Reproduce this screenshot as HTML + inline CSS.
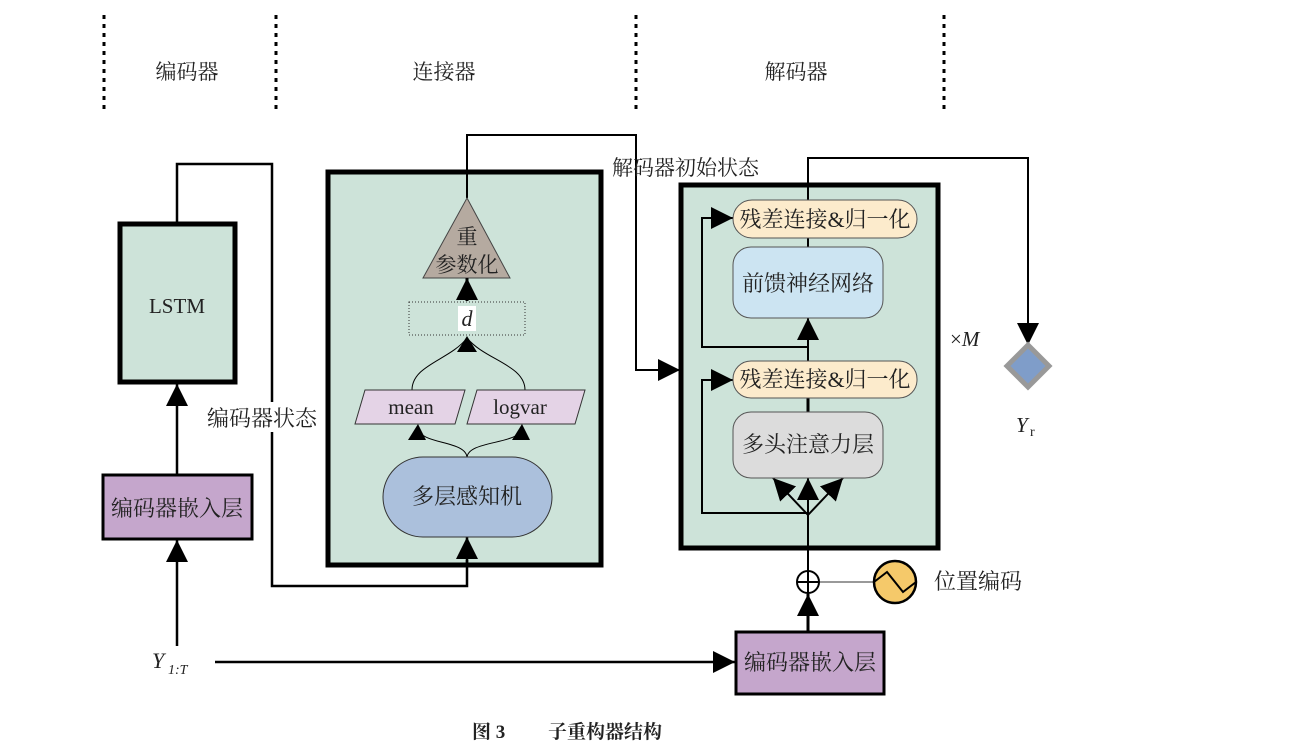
<!DOCTYPE html>
<html><head><meta charset="utf-8"><style>
body{margin:0;background:#fff}
svg text{font-family:"Liberation Serif","Noto Serif CJK SC",serif;fill:#222}
.cj{font-family:"Liberation Serif","Noto Serif CJK SC",serif}
</style></head><body>
<svg width="1290" height="746" viewBox="0 0 1290 746" xmlns="http://www.w3.org/2000/svg">
<defs>
<marker id="b" viewBox="0 0 10 10" refX="10" refY="5" markerWidth="22" markerHeight="22" markerUnits="userSpaceOnUse" orient="auto"><path d="M0,0L10,5L0,10z" fill="#000"/></marker></defs>
<g stroke="#000" stroke-width="3" stroke-dasharray="4,5">
<line x1="104" y1="15" x2="104" y2="112"/><line x1="276" y1="15" x2="276" y2="112"/><line x1="636" y1="15" x2="636" y2="112"/><line x1="944" y1="15" x2="944" y2="112"/></g>
<g font-size="21" class="cj" text-anchor="middle"><text x="187" y="79">编码器</text><text x="444" y="79">连接器</text><text x="796" y="79">解码器</text></g>
<!-- encoder -->
<rect x="120" y="224" width="115" height="158" fill="#cde3d9" stroke="#000" stroke-width="5"/>
<text x="177" y="313" font-size="21" text-anchor="middle">LSTM</text>
<rect x="103" y="475" width="149" height="64" fill="#c5a6cc" stroke="#000" stroke-width="3"/>
<text x="177" y="516" font-size="22" class="cj" text-anchor="middle">编码器嵌入层</text>
<rect x="328" y="172" width="273" height="393" fill="#cde3d9" stroke="#000" stroke-width="5"/>
<g fill="none" stroke="#000" stroke-width="2.5">
<path d="M177 222V164H272V402"/><path d="M272 432V586H467V560" />
<line x1="177" y1="474" x2="177" y2="384" marker-end="url(#b)"/>
<line x1="177" y1="646" x2="177" y2="540" marker-end="url(#b)"/>
<line x1="215" y1="662" x2="735" y2="662" marker-end="url(#b)"/>
<line x1="467" y1="567" x2="467" y2="537" marker-end="url(#b)"/>
</g>
<text x="262" y="426" font-size="22" class="cj" text-anchor="middle">编码器状态</text>
<text x="152" y="668" font-size="22" font-style="italic">Y</text><text x="168" y="674" font-size="14" font-style="italic">1:T</text>
<!-- connector -->
<path d="M467 198V135H636V370H680" fill="none" stroke="#000" stroke-width="2" marker-end="url(#b)"/>
<path d="M467 198L510 278H423Z" fill="#b5aaa0" stroke="#444"/>
<text x="467" y="244" font-size="21" class="cj" text-anchor="middle">重</text>
<text x="467" y="272" font-size="21" class="cj" text-anchor="middle">参数化</text>
<line x1="467" y1="301" x2="467" y2="278" stroke="#000" stroke-width="3" marker-end="url(#b)"/>
<rect x="409" y="302" width="116" height="33" fill="#cde3d9" stroke="#333" stroke-dasharray="1,2"/>
<rect x="458" y="306" width="18" height="25" fill="#fff"/>
<text x="467" y="326" font-size="22" font-style="italic" text-anchor="middle">d</text>
<path d="M412 390C412 365 450 360 467 338M525 390C525 365 485 360 467 338" fill="none" stroke="#000"/>
<path d="M457 352L467 336L477 352Z"/>
<path d="M365 390H465L455 424H355Z" fill="#e4d3e6" stroke="#333"/>
<path d="M477 390H585L575 424H467Z" fill="#e4d3e6" stroke="#333"/>
<text x="411" y="414" font-size="21" text-anchor="middle">mean</text>
<text x="520" y="414" font-size="21" text-anchor="middle">logvar</text>
<path d="M467 458C467 440 420 445 418 428M467 458C467 440 520 445 522 428" fill="none" stroke="#000"/>
<path d="M408 440L418 424L426 440Z M512 440L522 424L530 440Z"/>
<rect x="383" y="457" width="169" height="80" rx="40" fill="#abc0dc" stroke="#333"/>
<text x="467" y="504" font-size="22" class="cj" text-anchor="middle">多层感知机</text>
<!-- decoder -->
<text x="612" y="175" font-size="21" class="cj">解码器初始状态</text>
<rect x="681" y="185" width="257" height="363" fill="#cde3d9" stroke="#000" stroke-width="5"/>
<g fill="none" stroke="#000" stroke-width="2">
<path d="M808 200V158H1028V345" marker-end="url(#b)"/>
<line x1="808" y1="238" x2="808" y2="247"/>
<line x1="808" y1="361" x2="808" y2="318" marker-end="url(#b)"/>
<line x1="808" y1="398" x2="808" y2="412" stroke-width="3"/>
<path d="M808 347H702V218H733" marker-end="url(#b)"/>
<path d="M808 513H702V380H733" marker-end="url(#b)"/>
<line x1="808" y1="600" x2="808" y2="478" marker-end="url(#b)"/>
<line x1="808" y1="515" x2="773" y2="478" marker-end="url(#b)"/>
<line x1="808" y1="515" x2="843" y2="478" marker-end="url(#b)"/>
<line x1="808" y1="631" x2="808" y2="594" stroke-width="3" marker-end="url(#b)"/>
</g>
<rect x="733" y="200" width="184" height="38" rx="19" fill="#fcebcc" stroke="#555"/>
<text x="825" y="227" font-size="22" class="cj" text-anchor="middle">残差连接&amp;归一化</text>
<rect x="733" y="247" width="150" height="71" rx="18" fill="#cce4f2" stroke="#555"/>
<text x="808" y="291" font-size="22" class="cj" text-anchor="middle">前馈神经网络</text>
<rect x="733" y="361" width="184" height="37" rx="18" fill="#fcebcc" stroke="#555"/>
<text x="825" y="387" font-size="22" class="cj" text-anchor="middle">残差连接&amp;归一化</text>
<rect x="733" y="412" width="150" height="66" rx="18" fill="#dcdcdc" stroke="#555"/>
<text x="808" y="452" font-size="22" class="cj" text-anchor="middle">多头注意力层</text>
<text x="950" y="346" font-size="21">×<tspan font-style="italic">M</tspan></text>
<path d="M1028 345L1049 366L1028 387L1007 366Z" fill="#7f9dc9" stroke="#999" stroke-width="5"/>
<text x="1016" y="432" font-size="21" font-style="italic">Y</text><text x="1030" y="436" font-size="14">r</text>
<line x1="819" y1="582" x2="873" y2="582" stroke="#999" stroke-width="2"/>
<circle cx="808" cy="582" r="11" fill="#fff" stroke="#000" stroke-width="2"/>
<path d="M797 582H819M808 571V593" stroke="#000" stroke-width="2"/>
<circle cx="895" cy="582" r="21" fill="#f5c96a" stroke="#000" stroke-width="2.5"/>
<path d="M874 582L887 572L903 592L916 582" fill="none" stroke="#000" stroke-width="2"/>
<text x="934" y="589" font-size="22" class="cj">位置编码</text>
<rect x="736" y="632" width="148" height="62" fill="#c5a6cc" stroke="#000" stroke-width="3"/>
<text x="810" y="670" font-size="22" class="cj" text-anchor="middle">编码器嵌入层</text>
<text x="472" y="738" font-size="19" font-weight="bold" class="cj">图 3</text>
<text x="548" y="738" font-size="19" font-weight="bold" class="cj">子重构器结构</text>
</svg>
</body></html>
